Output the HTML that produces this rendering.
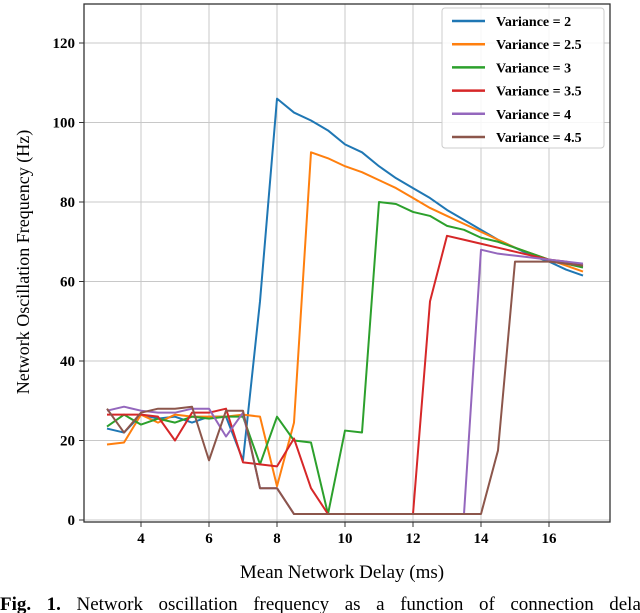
<!DOCTYPE html>
<html><head><meta charset="utf-8">
<style>
body{margin:0;background:#fff;width:640px;height:613px;overflow:hidden}
svg{display:block;font-family:"Liberation Serif",serif}
</style></head><body>
<svg width="640" height="613">
<g id="grid"></g>
<g id="series"></g>
<g id="axes"></g>
<g id="legend"></g>
<text x="342" y="578" font-size="19" text-anchor="middle">Mean Network Delay (ms)</text>
<text transform="translate(29,262) rotate(-90)" font-size="18" text-anchor="middle">Network Oscillation Frequency (Hz)</text>
<text x="0" y="610" font-size="19" word-spacing="10.8"><tspan font-weight="bold">Fig. 1.</tspan> Network oscillation frequency as a function of connection delay</text>
</svg>
<script>
const xs=[3,3.5,4,4.5,5,5.5,6,6.5,7,7.5,8,8.5,9,9.5,10,10.5,11,11.5,12,12.5,13,13.5,14,14.5,15,15.5,16,16.5,17];
const seriesNames=["Variance = 2","Variance = 2.5","Variance = 3","Variance = 3.5","Variance = 4","Variance = 4.5"];
const colors=["#1f77b4","#ff7f0e","#2ca02c","#d62728","#9467bd","#8c564b"];
const v2=[23,22,26.5,25.5,26,24.5,26,26,15,55,106,102.5,100.5,98,94.5,92.5,89,86,83.5,81,78,75.5,73,70.5,68.5,66.5,65,63,61.5];
const v25=[19,19.5,26.5,24.5,26.5,26,26,26,26.5,26,8.5,24.5,92.5,91,89,87.5,85.5,83.5,81,78.5,76.5,74.5,72.5,70.5,68.5,67,65.5,64,62.5];
const v3=[23.5,26.5,24,25.5,24.5,26,25.5,26,26,14,26,20,19.5,1.5,22.5,22,80,79.5,77.5,76.5,74,73,71,70,68.5,67,65.5,64.5,63.5];
const v35=[26.5,26.5,26.5,26,20,27,27,28,14.5,14,13.5,20.5,8,1.5,1.5,1.5,1.5,1.5,1.5,55,71.5,70.5,69.5,68.5,67.5,66.5,65.5,65,64];
const v4=[27.5,28.5,27.5,27,27,28,28,21,27,8,8,1.5,1.5,1.5,1.5,1.5,1.5,1.5,1.5,1.5,1.5,1.5,68,67,66.5,66,65.5,65,64.5];
const v45=[28,22,27,28,28,28.5,15,27.5,27.5,8,8,1.5,1.5,1.5,1.5,1.5,1.5,1.5,1.5,1.5,1.5,1.5,1.5,17.5,65,65,65,64.5,64];
const xTicks=[4,6,8,10,12,14,16];
const yTicks=[0,20,40,60,80,100,120];
const allSeries=[v2,v25,v3,v35,v4,v45];
const NS="http://www.w3.org/2000/svg";
const L=84,R=610,T=4,B=522;
const X=v=>107+(v-3)*34;
const Y=v=>520-v*3.975;
function mk(t,a,p){const e=document.createElementNS(NS,t);for(const k in a)e.setAttribute(k,a[k]);p.appendChild(e);return e;}
const grid=document.getElementById('grid'),axes=document.getElementById('axes'),ser=document.getElementById('series'),leg=document.getElementById('legend');
xTicks.forEach(t=>{
 const g=mk('line',{x1:X(t),x2:X(t),y1:T,y2:B,stroke:'#c8c8c8','stroke-width':1},grid);
 
 
 mk('line',{x1:X(t),x2:X(t),y1:B,y2:B+5,stroke:'#333'},axes);
 const tx=mk('text',{x:X(t),y:B+21,'font-size':15,'font-weight':'bold','text-anchor':'middle'},axes);
 tx.textContent=t;
 
 
});
yTicks.forEach(t=>{
 const g=mk('line',{x1:L,x2:R,y1:Y(t),y2:Y(t),stroke:'#c8c8c8','stroke-width':1},grid);
 
 
 mk('line',{x1:L-5,x2:L,y1:Y(t),y2:Y(t),stroke:'#333'},axes);
 const tx=mk('text',{x:L-9,y:Y(t)+5,'font-size':15,'font-weight':'bold','text-anchor':'end'},axes);
 tx.textContent=t;
 
 
});
const fr=mk('rect',{x:L,y:T,width:R-L,height:B-T,fill:'none',stroke:'#333','stroke-width':1.3},axes);


allSeries.forEach((s,i)=>{
 const p=mk('polyline',{points:s.map((v,j)=>X(xs[j])+','+Y(v)).join(' '),fill:'none',stroke:colors[i],'stroke-width':2,'stroke-linejoin':'round'},ser);
 
 
});
const lb=mk('rect',{x:442,y:8,width:162,height:140,rx:3,fill:'#fff','fill-opacity':0.85,stroke:'#ccc'},leg);


seriesNames.forEach((n,i)=>{
 const y=21+i*23.2;
 const ln=mk('line',{x1:452,x2:485,y1:y,y2:y,stroke:colors[i],'stroke-width':2.5},leg);
 
 
 const t=mk('text',{x:496,y:y+5,'font-size':14,'font-weight':'bold'},leg);
 t.textContent=n;
 
 
});
</script>
</body></html>
